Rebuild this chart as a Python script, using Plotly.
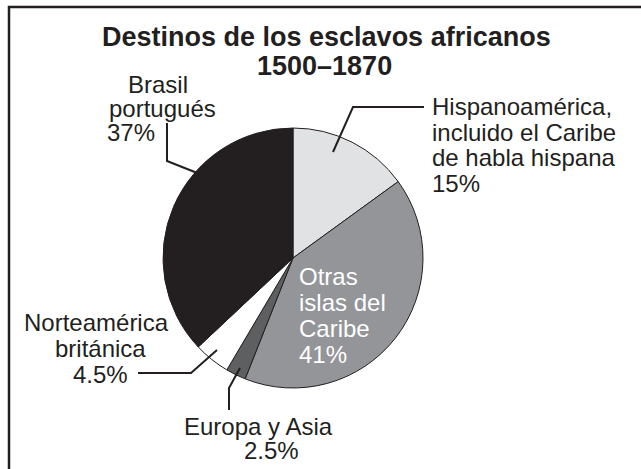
import plotly.graph_objects as go

# ---- data ----
labels = ["Hispanoamérica, incluido el Caribe de habla hispana",
          "Otras islas del Caribe", "Europa y Asia",
          "Norteamérica británica", "Brasil portugués"]
values = [15, 41, 2.5, 4.5, 37]
pct_text = ["15%", "41%", "2.5%", "4.5%", "37%"]
colors = ["#e1e2e3", "#939598", "#5e5f61", "#ffffff", "#231f20"]
title_lines = ["Destinos de los esclavos africanos", "1500–1870"]

W, H = 641, 469
INK = "#231f20"
FONT = "Liberation Sans, Arial, Helvetica, sans-serif"


def px(x):
    return x / W


def py(y):
    return 1 - y / H


cx, cy, r = 293, 258, 130

fig = go.Figure(go.Pie(
    labels=labels, values=values, sort=False, direction="clockwise",
    rotation=0, textinfo="none", hoverinfo="label+percent",
    marker=dict(colors=colors, line=dict(color=INK, width=1)),
    domain=dict(x=[px(cx - r), px(cx + r)], y=[py(cy + r), py(cy - r)]),
    showlegend=False,
))

annotations = []


def txt(s, x, baseline, size=24, anchor="left", bold=False, color=INK):
    center = baseline - 0.3465 * size
    annotations.append(dict(
        text=f"<b>{s}</b>" if bold else s, x=px(x), y=py(center),
        xref="paper", yref="paper", xanchor=anchor, yanchor="middle",
        showarrow=False, font=dict(family=FONT, size=size, color=color)))


# title
txt(title_lines[0], 326, 46, size=27, anchor="center", bold=True)
txt(title_lines[1], 325, 75, size=27, anchor="center", bold=True)

# Hispanoamérica
txt("Hispanoamérica,", 430, 115)
txt("incluido el Caribe", 430, 141)
txt("de habla hispana", 430, 166)
txt(pct_text[0], 430, 192)

# Otras islas
txt("Otras", 297, 285, color="white")
txt("islas del", 297, 311, color="white")
txt("Caribe", 297, 337, color="white")
txt(pct_text[1], 297, 363, color="white")

# Europa y Asia
txt("Europa y Asia", 258, 435, anchor="center")
txt(pct_text[2], 271, 459, anchor="center")

# Norteamérica
txt("Norteamérica", 96, 331, anchor="center")
txt("británica", 100, 357, anchor="center")
txt(pct_text[3], 100, 383, anchor="center")

# Brasil
txt("Brasil", 158, 93, anchor="center")
txt("portugués", 107, 117)
txt(pct_text[4], 105, 141)

shapes = []


def poly(points, width=2):
    d = "M " + " L ".join(f"{px(x):.5f},{py(y):.5f}" for x, y in points)
    shapes.append(dict(type="path", path=d, xref="paper", yref="paper",
                       line=dict(color=INK, width=width)))


# leader lines
poly([(333, 152), (353, 107), (424, 107)])
poly([(230, 186), (167, 161), (167, 123)])
poly([(217, 350), (191, 373), (138, 373)])
poly([(240, 368), (229, 388), (229, 410)])

# frame (top and left edges visible)
poly([(9, H + 5), (9, 7), (W + 5, 7)], width=2.5)

fig.update_layout(
    width=W, height=H, margin=dict(l=0, r=0, t=0, b=0),
    paper_bgcolor="white", plot_bgcolor="white",
    annotations=annotations, shapes=shapes,
)

fig.write_html("out.html")
